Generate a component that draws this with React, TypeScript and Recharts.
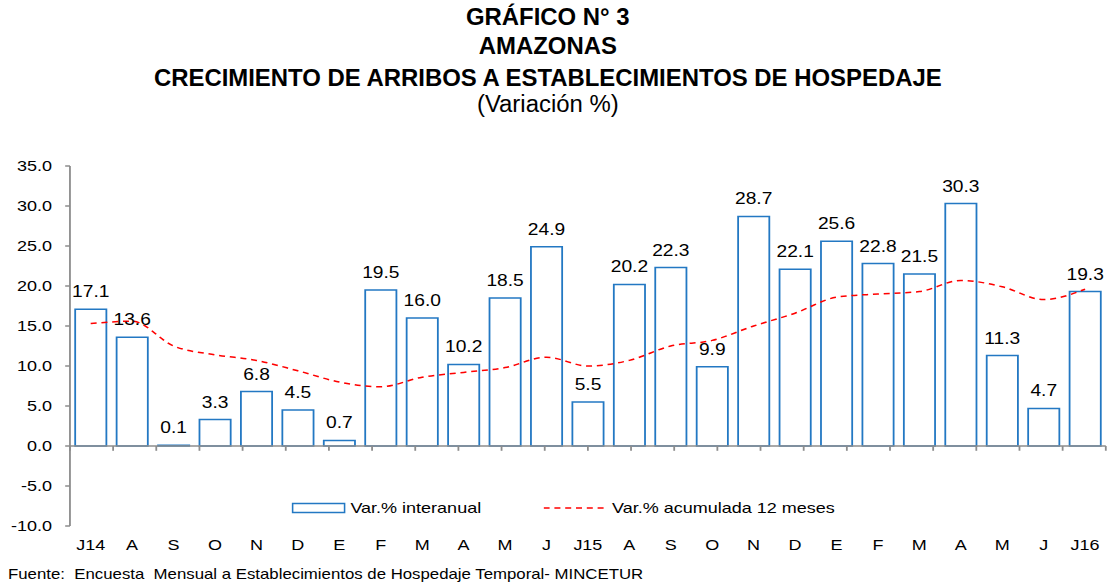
import React from 'react';
import { ComposedChart, Bar, Line, XAxis, YAxis, ReferenceLine, LabelList, Legend } from 'recharts';

// ---- data ----
const months = ['J14', 'A', 'S', 'O', 'N', 'D', 'E', 'F', 'M', 'A', 'M', 'J', 'J15', 'A', 'S', 'O', 'N', 'D', 'E', 'F', 'M', 'A', 'M', 'J', 'J16'];
const interanual = [17.1, 13.6, 0.1, 3.3, 6.8, 4.5, 0.7, 19.5, 16.0, 10.2, 18.5, 24.9, 5.5, 20.2, 22.3, 9.9, 28.7, 22.1, 25.6, 22.8, 21.5, 30.3, 11.3, 4.7, 19.3];
const acumulada = [15.3, 15.6, 12.5, 11.4, 10.7, 9.4, 8.0, 7.4, 8.6, 9.2, 9.8, 11.1, 10.0, 10.7, 12.5, 13.2, 15.0, 16.6, 18.6, 19.0, 19.3, 20.7, 19.9, 18.3, 19.6];
const yTicks = [-10, -5, 0, 5, 10, 15, 20, 25, 30, 35];
const boundaries = Array.from({ length: months.length + 1 }, (_, i) => i);
const titleLines = ['GRÁFICO N° 3', 'AMAZONAS', 'CRECIMIENTO DE ARRIBOS A ESTABLECIMIENTOS DE HOSPEDAJE'];
const subtitle = '(Variación %)';
const source = 'Fuente:  Encuesta  Mensual a Establecimientos de Hospedaje Temporal- MINCETUR';
const seriesNames = ['Var.% interanual', 'Var.% acumulada 12 meses'];

const data = months.map((m, i) => ({ id: i, month: m, interanual: interanual[i], acumulada: acumulada[i] }));

// ---- style ----
const S = 1.2; // horizontal stretch of the original picture
const W = 1107 / S;
const H = 584;
const FONT = '"Liberation Sans", Arial, Helvetica, sans-serif';
const BLUE = '#2378C3';
const RED = '#FF0000';
const AXIS = '#8C8C8C';
const TITLE_STRETCH = 1.04;

const renderLegend = () => (
  <div style={{ display: 'flex', alignItems: 'center', fontFamily: FONT, fontSize: 15, color: '#000', whiteSpace: 'nowrap', lineHeight: '18px' }}>
    <svg width={45} height={12}>
      <rect x={0.75} y={1.5} width={43.5} height={9} fill="#fff" stroke={BLUE} strokeWidth={1.5} />
    </svg>
    <span style={{ marginLeft: 4 }}>{seriesNames[0]}</span>
    <svg width={52} height={12} style={{ marginLeft: 52 }}>
      <line x1={0} y1={6} x2={52} y2={6} stroke={RED} strokeWidth={1.5} strokeDasharray="5 4" />
    </svg>
    <span style={{ marginLeft: 5 }}>{seriesNames[1]}</span>
  </div>
);

export default function App() {
  return (
    <div style={{ position: 'absolute', left: 0, top: 0, width: W, height: H, transform: `scaleX(${S})`, transformOrigin: '0 0', background: '#fff' }}>
      <ComposedChart
        width={W}
        height={H}
        data={data}
        margin={{ top: 166, right: 1, left: 0, bottom: 28 }}
        barCategoryGap="12.6%"
        style={{ fontFamily: FONT }}
      >
        <XAxis
          dataKey="id"
          type="category"
          tickFormatter={(i: number) => months[i]}
          axisLine={false}
          tickLine={false}
          tickSize={0}
          tickMargin={13}
          height={30}
          interval={0}
          tick={{ fontSize: 15, fill: '#000', fontFamily: FONT }}
        />
        <XAxis xAxisId="b" type="number" domain={[0, months.length]} hide />
        <YAxis
          domain={[-10, 35]}
          ticks={yTicks}
          tickFormatter={(v: number) => v.toFixed(1)}
          axisLine={{ stroke: AXIS, strokeWidth: 1.5 }}
          tickLine={{ stroke: AXIS, strokeWidth: 1.5 }}
          tickSize={4}
          tickMargin={11}
          width={58.3}
          interval={0}
          tick={{ fontSize: 15, fill: '#000', fontFamily: FONT }}
        />
        <Bar dataKey="interanual" fill="#fff" stroke={BLUE} strokeWidth={1.5} isAnimationActive={false}>
          <LabelList
            dataKey="interanual"
            position="top"
            offset={12}
            formatter={(v: number) => v.toFixed(1)}
            style={{ fontSize: 16, fill: '#000', fontFamily: FONT }}
          />
        </Bar>
        <ReferenceLine y={0} stroke={AXIS} strokeWidth={1.5} />
        {boundaries.map((b) => (
          <ReferenceLine
            key={b}
            xAxisId="b"
            segment={[{ x: b, y: 0 }, { x: b, y: -0.6 }]}
            stroke={AXIS}
            strokeWidth={1.5}
          />
        ))}
        <Line
          dataKey="acumulada"
          type="monotone"
          stroke={RED}
          strokeWidth={1.5}
          strokeDasharray="5 4"
          dot={false}
          activeDot={false}
          isAnimationActive={false}
        />
        <Legend
          layout="horizontal"
          verticalAlign="middle"
          align="center"
          wrapperStyle={{ left: 243, top: 499, width: 'auto', height: 18 }}
          content={renderLegend}
        />
      </ComposedChart>
      <svg width={W} height={H} style={{ position: 'absolute', left: 0, top: 0, pointerEvents: 'none' }}>
        <g transform={`translate(456.5,0) scale(${TITLE_STRETCH / S},1)`} fontFamily={FONT} fill="#000" textAnchor="middle">
          <text x={0} y={25} fontSize={23} fontWeight="bold">{titleLines[0]}</text>
          <text x={0} y={54} fontSize={23} fontWeight="bold">{titleLines[1]}</text>
          <text x={0} y={86} fontSize={23} fontWeight="bold">{titleLines[2]}</text>
          <text x={0} y={112} fontSize={23}>{subtitle}</text>
        </g>
        <text x={6.7} y={579} fontFamily={FONT} fontSize={14} fill="#000" style={{ whiteSpace: 'pre' }}>{source}</text>
      </svg>
    </div>
  );
}
